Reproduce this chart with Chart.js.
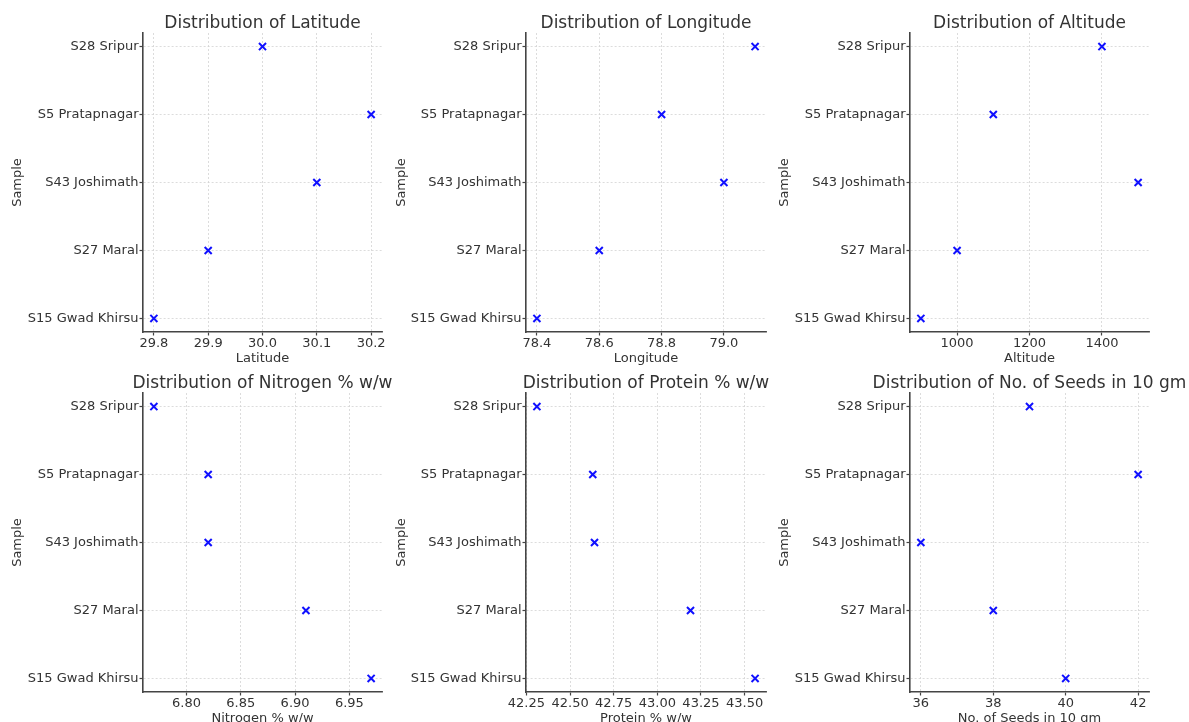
<!DOCTYPE html>
<html>
<head>
<meta charset="utf-8">
<script src="https://cdn.jsdelivr.net/npm/chart.js@4.4.1/dist/chart.umd.min.js"></script>
<style>
    html, body { margin: 0; padding: 0; background: #ffffff; overflow: hidden; }
    body { width: 1189px; height: 722px; position: relative; }
    canvas { position: absolute; }
</style>
</head>
<body>
<script>
// samples listed bottom to top, as on the category axis
const samples = ["S15 Gwad Khirsu", "S27 Maral", "S43 Joshimath", "S5 Pratapnagar", "S28 Sripur"];

const latitude = [29.8, 29.9, 30.1, 30.2, 30.0];
const longitude = [78.4, 78.6, 79.0, 78.8, 79.1];
const altitude = [900, 1000, 1500, 1100, 1400];
const nitrogen = [6.97, 6.91, 6.82, 6.82, 6.77];
const protein = [43.56, 43.19, 42.64, 42.63, 42.31];
const seeds = [40, 38, 36, 42, 39];

const latitudeTicks = ["29.8", "29.9", "30.0", "30.1", "30.2"];
const longitudeTicks = ["78.4", "78.6", "78.8", "79.0"];
const altitudeTicks = ["1000", "1200", "1400"];
const nitrogenTicks = ["6.80", "6.85", "6.90", "6.95"];
const proteinTicks = ["42.25", "42.50", "42.75", "43.00", "43.25", "43.50"];
const seedsTicks = ["36", "38", "40", "42"];

const panels = [
    { title: "Distribution of Latitude", label: "Latitude", values: latitude, ticks: latitudeTicks },
    { title: "Distribution of Longitude", label: "Longitude", values: longitude, ticks: longitudeTicks },
    { title: "Distribution of Altitude", label: "Altitude", values: altitude, ticks: altitudeTicks },
    { title: "Distribution of Nitrogen % w/w", label: "Nitrogen % w/w", values: nitrogen, ticks: nitrogenTicks },
    { title: "Distribution of Protein % w/w", label: "Protein % w/w", values: protein, ticks: proteinTicks },
    { title: "Distribution of No. of Seeds in 10 gm", label: "No. of Seeds in 10 gm", values: seeds, ticks: seedsTicks },
];

// page layout of the 2x3 grid
const columns = [
    { cx: 8, left: 143, right: 382 },
    { cx: 392, left: 526, right: 766 },
    { cx: 775, left: 910, right: 1149 },
];
const rowTops = [0, 360];
const plotBottom = 332;
const canvasHeight = 370;

const TEXT = "#333333";
const SPINE = "#444444";
const GRID = "#d4d4d4";
const FONT = "'DejaVu Sans', sans-serif";

function buildPanel(panel, index) {
    const col = columns[index % 3];
    const top = rowTops[Math.floor(index / 3)];
    const axisWidth = col.left - col.cx;
    // canvas is symmetric around the plot so the title centres over it
    const width = axisWidth * 2 + (col.right - col.left);

    const canvas = document.createElement("canvas");
    canvas.width = width;
    canvas.height = canvasHeight;
    canvas.style.left = col.cx + "px";
    canvas.style.top = top + "px";
    canvas.style.width = width + "px";
    canvas.style.height = canvasHeight + "px";
    document.body.appendChild(canvas);

    const lo = Math.min(...panel.values);
    const hi = Math.max(...panel.values);
    const margin = (hi - lo) * 0.05;

    new Chart(canvas, {
        type: "scatter",
        data: {
            datasets: [
                {
                    data: panel.values.map((v, i) => ({ x: v, y: i })),
                    pointStyle: "crossRot",
                    pointRadius: 5,
                    pointHoverRadius: 5,
                    borderWidth: 2,
                    borderColor: "#1010ff",
                    backgroundColor: "#1010ff",
                },
            ],
        },
        options: {
            responsive: false,
            animation: false,
            events: [],
            layout: { padding: 0 },
            plugins: {
                legend: { display: false },
                tooltip: { enabled: false },
                title: {
                    display: true,
                    text: panel.title,
                    color: TEXT,
                    font: { family: FONT, size: 17, weight: "normal", lineHeight: 1.2 },
                    padding: { top: 13, bottom: -0.4 },
                },
            },
            scales: {
                x: {
                    type: "linear",
                    position: "bottom",
                    min: lo - margin,
                    max: hi + margin,
                    afterBuildTicks: (scale) => {
                        scale.ticks = panel.ticks.map((t) => ({ value: Number(t) }));
                    },
                    afterFit: (scale) => {
                        scale.height = canvasHeight - plotBottom;
                    },
                    ticks: {
                        color: TEXT,
                        font: { family: FONT, size: 13, lineHeight: 1 },
                        padding: 1.5,
                        maxRotation: 0,
                        autoSkip: false,
                        callback: (value, i) => panel.ticks[i],
                    },
                    grid: {
                        color: GRID,
                        lineWidth: 0.8,
                        tickColor: SPINE,
                        tickLength: 3.5,
                        tickWidth: 1.2,
                    },
                    border: { color: SPINE, width: 1.6, dash: [2, 2] },
                    title: {
                        display: true,
                        text: panel.label,
                        color: TEXT,
                        font: { family: FONT, size: 13, lineHeight: 1.2 },
                        padding: { top: 0, bottom: 3.4 },
                    },
                },
                y: {
                    type: "linear",
                    position: "left",
                    min: -0.2,
                    max: 4.2,
                    afterBuildTicks: (scale) => {
                        scale.ticks = samples.map((s, i) => ({ value: i }));
                    },
                    afterFit: (scale) => {
                        scale.width = axisWidth;
                    },
                    ticks: {
                        color: TEXT,
                        font: { family: FONT, size: 13 },
                        padding: 1,
                        autoSkip: false,
                        callback: (value) => samples[value],
                    },
                    grid: {
                        color: GRID,
                        lineWidth: 0.8,
                        tickColor: SPINE,
                        tickLength: 3.5,
                        tickWidth: 1.2,
                    },
                    border: { color: SPINE, width: 1.6, dash: [2, 2] },
                    title: {
                        display: true,
                        text: "Sample",
                        color: TEXT,
                        font: { family: FONT, size: 13, lineHeight: 1.2 },
                        padding: { top: 2, bottom: 0 },
                    },
                },
                // blank space on the right, mirrors the left axis
                spacer: {
                    type: "linear",
                    position: "right",
                    afterFit: (scale) => {
                        scale.width = axisWidth;
                    },
                    ticks: { display: false },
                    grid: { display: false },
                    border: { display: false },
                },
            },
        },
    });
}

panels.forEach(buildPanel);
</script>
</body>
</html>
